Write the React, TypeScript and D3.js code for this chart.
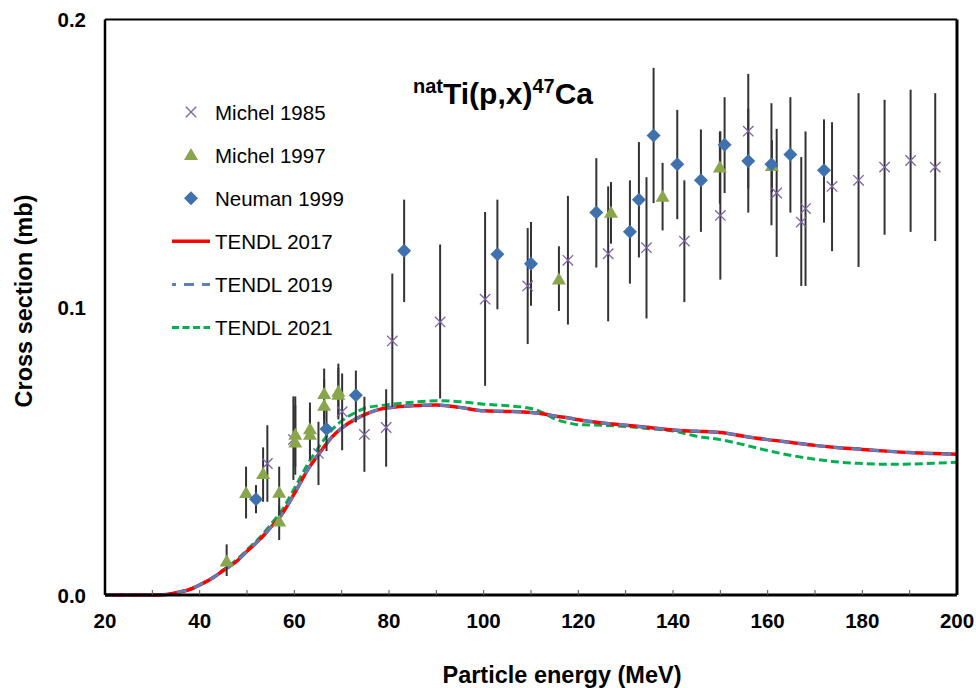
import React from "react";
import * as d3 from "d3";

// ---- Data ----
// [energy MeV, cross section mb, upper error, lower error]
const michel1985: [number, number, number, number][] = [
  [54.3, 0.0457, 0.059, 0.0324],
  [59.8, 0.054, 0.069, 0.04],
  [65.1, 0.0492, 0.0602, 0.0382],
  [70.1, 0.0637, 0.077, 0.0503],
  [74.8, 0.0558, 0.0689, 0.0428],
  [79.4, 0.0582, 0.0715, 0.0446],
  [80.7, 0.0883, 0.1117, 0.0654],
  [90.8, 0.0949, 0.1218, 0.0683],
  [100.3, 0.1028, 0.1331, 0.0727],
  [109.3, 0.1074, 0.1275, 0.0872],
  [117.8, 0.1163, 0.1387, 0.094],
  [126.3, 0.1186, 0.142, 0.0951],
  [134.4, 0.1207, 0.1452, 0.0961],
  [142.4, 0.123, 0.1441, 0.1018],
  [150.0, 0.1319, 0.1611, 0.1096],
  [155.9, 0.1612, 0.1811, 0.1413],
  [161.9, 0.1397, 0.162, 0.1175],
  [167.1, 0.1296, 0.1522, 0.1074],
  [168.0, 0.1343, 0.1611, 0.1074],
  [173.6, 0.142, 0.1643, 0.1195],
  [179.2, 0.1441, 0.1744, 0.114],
  [184.7, 0.1487, 0.1721, 0.1252],
  [190.2, 0.151, 0.1756, 0.1262],
  [195.4, 0.1487, 0.1744, 0.123],
];

const michel1997: [number, number, number, number][] = [
  [45.7, 0.0116, 0.0176, 0.0066],
  [49.8, 0.0354, 0.0446, 0.0266],
  [53.4, 0.042, 0.0513, 0.0324],
  [56.8, 0.0355, 0.0446, 0.0266],
  [56.8, 0.0255, 0.031, 0.0191],
  [60.2, 0.0556, 0.069, 0.0418],
  [60.2, 0.0529, 0.066, 0.0446],
  [63.3, 0.0575, 0.0669, 0.0486],
  [63.3, 0.0556, 0.065, 0.047],
  [66.3, 0.0657, 0.075, 0.057],
  [66.3, 0.0698, 0.0787, 0.061],
  [69.3, 0.0706, 0.0804, 0.062],
  [69.3, 0.0695, 0.079, 0.061],
  [115.9, 0.1096, 0.1212, 0.0987],
  [126.9, 0.1328, 0.1435, 0.1221],
  [137.8, 0.1383, 0.1502, 0.1267],
  [149.9, 0.1485, 0.1611, 0.136],
  [160.9, 0.149, 0.158, 0.14],
];

const neuman1999: [number, number, number, number][] = [
  [51.9, 0.0333, 0.0382, 0.0284],
  [66.8, 0.0577, 0.0656, 0.05],
  [73.0, 0.0694, 0.078, 0.06],
  [83.2, 0.1196, 0.1374, 0.1018],
  [102.9, 0.1184, 0.1374, 0.0993],
  [110.0, 0.1151, 0.1296, 0.1005],
  [123.8, 0.1329, 0.1518, 0.1138],
  [130.9, 0.1262, 0.1441, 0.1082],
  [132.8, 0.1374, 0.1574, 0.1173],
  [135.9, 0.1597, 0.1832, 0.1362],
  [140.9, 0.1497, 0.1686, 0.1306],
  [145.9, 0.1441, 0.1618, 0.1262],
  [150.9, 0.1565, 0.173, 0.1397],
  [155.9, 0.1508, 0.169, 0.1329],
  [160.8, 0.1497, 0.1709, 0.1285],
  [164.8, 0.1531, 0.173, 0.1329],
  [171.9, 0.1476, 0.1653, 0.1294],
];

const tendlEnergy = [
  20, 25, 30, 33, 35, 38, 40, 43, 45, 48, 50, 53, 55, 57, 60, 63, 65, 68, 70, 73, 75, 78, 80,
  85, 90, 95, 100, 105, 110, 113, 115, 118, 120, 125, 130, 135, 140, 145, 150, 155, 160, 165,
  170, 175, 180, 185, 190, 195, 200,
];
const tendl2017 = [
  0, 0, 0, 0.0002, 0.0008, 0.002, 0.0035, 0.0062, 0.0085, 0.012, 0.0152, 0.0198, 0.0235,
  0.0272, 0.0352, 0.044, 0.0486, 0.055, 0.058, 0.0612, 0.0628, 0.0645, 0.0651, 0.0658, 0.066,
  0.0652, 0.064, 0.0638, 0.0634, 0.0628, 0.0622, 0.0615, 0.0609, 0.0598, 0.059, 0.0582, 0.0573,
  0.0569, 0.0565, 0.0552, 0.054, 0.053, 0.052, 0.0512, 0.0506, 0.05, 0.0495, 0.0492, 0.0489,
];
const tendl2019 = tendl2017.slice();
const tendl2021 = [
  0, 0, 0, 0.0002, 0.0008, 0.002, 0.0035, 0.0063, 0.0087, 0.0125, 0.0157, 0.0205, 0.0245,
  0.0285, 0.037, 0.046, 0.051, 0.0575, 0.0605, 0.0635, 0.065, 0.0658, 0.0662, 0.067, 0.0675,
  0.0672, 0.0663, 0.0658, 0.0648, 0.063, 0.0612, 0.0598, 0.0592, 0.059, 0.0586, 0.0578, 0.057,
  0.0552, 0.054, 0.0522, 0.0502, 0.0485, 0.0472, 0.0462, 0.0457, 0.0454, 0.0455, 0.0458, 0.0461,
];

const xTickLabels = [20, 40, 60, 80, 100, 120, 140, 160, 180, 200];
const xMinorTicks = d3.range(30, 200, 10);
const yTickLabels = [0, 0.1, 0.2];

const legendItems = [
  { label: "Michel 1985", kind: "x" },
  { label: "Michel 1997", kind: "tri" },
  { label: "Neuman 1999", kind: "dia" },
  { label: "TENDL 2017", kind: "red" },
  { label: "TENDL 2019", kind: "blue" },
  { label: "TENDL 2021", kind: "green" },
];

// ---- Styles ----
const FONT = "'Liberation Sans', Arial, Helvetica, sans-serif";
const C_X = "#7E62A8";
const C_TRI = "#8AA64C";
const C_DIA = "#3F71AE";
const C_RED = "#FF0000";
const C_BLUE = "#5B80BC";
const C_GREEN = "#00B050";
const C_ERR = "#333333";

const W = 976;
const H = 688;
const L = 105;
const R = 957;
const T = 19.5;
const B = 595;

function Cross({ x, y }: { x: number; y: number }) {
  const s = 5.2;
  return (
    <g stroke={C_X} strokeWidth={1.3}>
      <line x1={x - s} y1={y - s} x2={x + s} y2={y + s} />
      <line x1={x - s} y1={y + s} x2={x + s} y2={y - s} />
    </g>
  );
}
function Tri({ x, y }: { x: number; y: number }) {
  const w = 7;
  const h = 12;
  return <path d={`M${x},${y - h * 0.6}L${x + w},${y + h * 0.4}L${x - w},${y + h * 0.4}Z`} fill={C_TRI} />;
}
function Dia({ x, y }: { x: number; y: number }) {
  const s = 7;
  return <path d={`M${x},${y - s}L${x + s},${y}L${x},${y + s}L${x - s},${y}Z`} fill={C_DIA} />;
}

export default function App() {
  const x = d3.scaleLinear().domain([20, 200]).range([L, R]);
  const y = d3.scaleLinear().domain([0, 0.2]).range([B, T]);

  const line = d3
    .line<[number, number]>()
    .x((d) => x(d[0]))
    .y((d) => y(d[1]))
    .curve(d3.curveMonotoneX);

  const zip = (vals: number[]) => tendlEnergy.map((e, i) => [e, vals[i]] as [number, number]);

  const allPts = [...michel1985, ...michel1997, ...neuman1999];

  return (
    <svg width={W} height={H} style={{ position: "absolute", left: 0, top: 0, background: "#fff" }}>
      <rect width={W} height={H} fill="#fff" />
      {/* curves */}
      <path d={line(zip(tendl2021)) || ""} fill="none" stroke={C_GREEN} strokeWidth={3} strokeDasharray="8 4" />
      <path d={line(zip(tendl2017)) || ""} fill="none" stroke={C_RED} strokeWidth={3.5} />
      <path d={line(zip(tendl2019)) || ""} fill="none" stroke={C_BLUE} strokeWidth={3} strokeDasharray="10 8" />

      {/* error bars */}
      <g stroke={C_ERR} strokeWidth={2}>
        {allPts.map((d, i) => (
          <line key={i} x1={x(d[0])} x2={x(d[0])} y1={y(d[2])} y2={y(d[3])} />
        ))}
      </g>
      {/* markers */}
      {michel1985.map((d, i) => (
        <Cross key={"x" + i} x={x(d[0])} y={y(d[1])} />
      ))}
      {michel1997.map((d, i) => (
        <Tri key={"t" + i} x={x(d[0])} y={y(d[1])} />
      ))}
      {neuman1999.map((d, i) => (
        <Dia key={"d" + i} x={x(d[0])} y={y(d[1])} />
      ))}

      {/* frame */}
      <g fill="none" stroke="#000">
        <line x1={L} x2={L} y1={T} y2={B} strokeWidth={2.5} />
        <line x1={L} x2={R} y1={B} y2={B} strokeWidth={3} />
        <line x1={L} x2={R} y1={T} y2={T} strokeWidth={2} />
        <line x1={R} x2={R} y1={T} y2={B} strokeWidth={3} />
      </g>
      {/* minor ticks */}
      <g stroke="#555" strokeWidth={1}>
        {xMinorTicks.map((t) => (
          <line key={t} x1={x(t)} x2={x(t)} y1={B} y2={B - 5} />
        ))}
      </g>

      {/* tick labels */}
      <g fontFamily={FONT} fontWeight="bold" fontSize={20.5} fill="#000">
        {xTickLabels.map((t) => (
          <text key={t} x={x(t)} y={628} textAnchor="middle">
            {t}
          </text>
        ))}
        {yTickLabels.map((t) => (
          <text key={t} x={86} y={y(t) + 7.5} textAnchor="end">
            {t.toFixed(1)}
          </text>
        ))}
      </g>

      {/* axis titles */}
      <text x={562} y={683} textAnchor="middle" fontFamily={FONT} fontWeight="bold" fontSize={23.5}>
        Particle energy (MeV)
      </text>
      <text
        transform={`translate(32,301) rotate(-90)`}
        textAnchor="middle"
        fontFamily={FONT}
        fontWeight="bold"
        fontSize={23.5}
      >
        Cross section (mb)
      </text>

      {/* title */}
      <text x={413} y={104} fontFamily={FONT} fontWeight="bold" fontSize={30}>
        <tspan fontSize={20} dy={-11}>nat</tspan>
        <tspan dy={11}>Ti(p,x)</tspan>
        <tspan fontSize={20} dy={-11}>47</tspan>
        <tspan dy={11}>Ca</tspan>
      </text>

      {/* legend */}
      {legendItems.map((it, i) => {
        const cy = 112 + i * 43.1;
        let sym: React.ReactNode = null;
        if (it.kind === "x") sym = <Cross x={191} y={cy} />;
        else if (it.kind === "tri") sym = <Tri x={191} y={cy} />;
        else if (it.kind === "dia") sym = <Dia x={191} y={cy} />;
        else if (it.kind === "red")
          sym = <line x1={172} x2={210} y1={cy} y2={cy} stroke={C_RED} strokeWidth={3.5} />;
        else if (it.kind === "blue")
          sym = (
            <line x1={172} x2={210} y1={cy} y2={cy} stroke={C_BLUE} strokeWidth={3} strokeDasharray="4 8 10 8 10" />
          );
        else
          sym = <line x1={172} x2={210} y1={cy} y2={cy} stroke={C_GREEN} strokeWidth={3} strokeDasharray="7 3.5" />;
        return (
          <g key={it.label}>
            {sym}
            <text x={215} y={cy + 7.5} fontFamily={FONT} fontSize={20.5} fill="#000">
              {it.label}
            </text>
          </g>
        );
      })}
    </svg>
  );
}
